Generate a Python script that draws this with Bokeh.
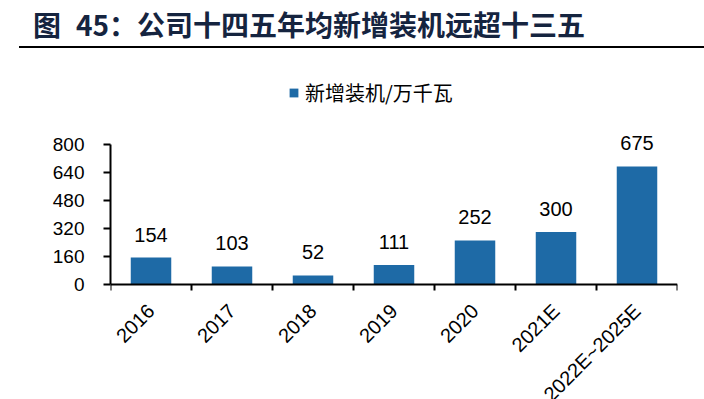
import math
import numpy as np
from bokeh.plotting import figure
from bokeh.models import (Range1d, FixedTicker, Legend, LegendItem,
                          ColumnDataSource, LabelSet, Div)
from bokeh.layouts import column
from bokeh.embed import file_html
from bokeh.resources import INLINE
from bokeh.core.properties import value

# ---- data ----
categories = ["2016", "2017", "2018", "2019", "2020", "2021E", "2022E~2025E"]
installs = [154, 103, 52, 111, 252, 300, 675]
y_ticks = [0, 160, 320, 480, 640, 800]
title_prefix = "图"
title_rest = "45：公司十四五年均新增装机远超十三五"
legend_label = "新增装机/万千瓦"

bar_color = "#1e6aa6"
title_color = "#15243f"
num_font = "Liberation Sans"
cjk_font = "Noto Sans CJK SC"

x = np.arange(len(categories)) + 0.5
src = ColumnDataSource(dict(x=x, top=installs, label=[str(v) for v in installs]))

# ---- title strip ----
title_html = (
    '<div style="position:relative;width:704px;height:56px;">'
    '<div style="position:absolute;left:19px;top:46px;width:685px;height:0;'
    'border-top:2.5px solid black;"></div>'
    '<div style="position:absolute;left:33px;top:8px;height:32px;line-height:32px;'
    f'font-family:\'{cjk_font}\';font-weight:bold;font-size:28px;'
    f'color:{title_color};white-space:nowrap;">'
    f'<span style="margin-right:15px;">{title_prefix}</span>{title_rest}</div>'
    '</div>'
)
title_div = Div(text=title_html, width=704, height=56, margin=0)

# ---- main chart ----
# frame runs to the bottom of the figure; the x axis is pinned at y=0 so that
# its rotated labels may run off the bottom edge as in the reference
FIG_H = 343
B_TOP = 4
PX_PER_UNIT = 140 / 800          # 0..800 spans 140 px
ZERO_FROM_BOTTOM = 115           # px between the zero line and the figure bottom
frame_h = FIG_H - B_TOP
Y_BOT = -ZERO_FROM_BOTTOM / PX_PER_UNIT
Y_TOP = Y_BOT + frame_h / PX_PER_UNIT
p = figure(width=704, height=FIG_H, x_range=Range1d(0, len(categories)),
           y_range=Range1d(Y_BOT, Y_TOP), output_backend="svg",
           toolbar_location=None, min_border_left=110, min_border_right=27,
           min_border_top=B_TOP, min_border_bottom=0, margin=0)
p.grid.visible = False
p.outline_line_color = None

r = p.vbar(x="x", top="top", width=0.5, source=src, fill_color=bar_color,
           line_color=None)

labels = LabelSet(x="x", y="top", text="label", source=src, text_align="center",
                  text_baseline="bottom", y_offset=16, text_font_size="20px",
                  text_font=value(num_font), text_color="black")
p.add_layout(labels)

legend = Legend(items=[LegendItem(label=legend_label, renderers=[r])],
                location=(178, ZERO_FROM_BOTTOM + 177), padding=0, margin=0,
                spacing=0, border_line_color=None, background_fill_alpha=0,
                glyph_width=11, glyph_height=11, label_height=20,
                label_standoff=6, label_text_font=cjk_font,
                label_text_font_size="20px", label_text_color="black")
p.add_layout(legend)

xa = p.xaxis[0]
xa.fixed_location = 0
xa.ticker = FixedTicker(ticks=list(x), minor_ticks=list(range(len(categories) + 1)))
xa.major_label_overrides = {float(xi): c for xi, c in zip(x, categories)}
xa.major_tick_line_color = None
xa.major_tick_out = 6
xa.minor_tick_out = 6
xa.minor_tick_in = 0
xa.minor_tick_line_width = 2
xa.minor_tick_line_color = "black"
xa.axis_line_width = 2
xa.axis_line_color = "black"
xa.major_label_orientation = math.pi / 4
xa.major_label_text_font = num_font
xa.major_label_text_font_size = "20px"
xa.major_label_text_color = "black"
xa.major_label_standoff = 17

ya = p.yaxis[0]
ya.ticker = FixedTicker(ticks=y_ticks, minor_ticks=[])
ya.bounds = (0, 800)
ya.major_tick_out = 7
ya.major_tick_in = 0
ya.major_tick_line_width = 2
ya.major_tick_line_color = "black"
ya.minor_tick_line_color = None
ya.axis_line_width = 2
ya.axis_line_color = "black"
ya.major_label_text_font = num_font
ya.major_label_text_font_size = "19px"
ya.major_label_text_color = "black"
ya.major_label_standoff = 19

layout = column(title_div, p, spacing=0)
open("out.html", "w").write(file_html(layout, INLINE))
